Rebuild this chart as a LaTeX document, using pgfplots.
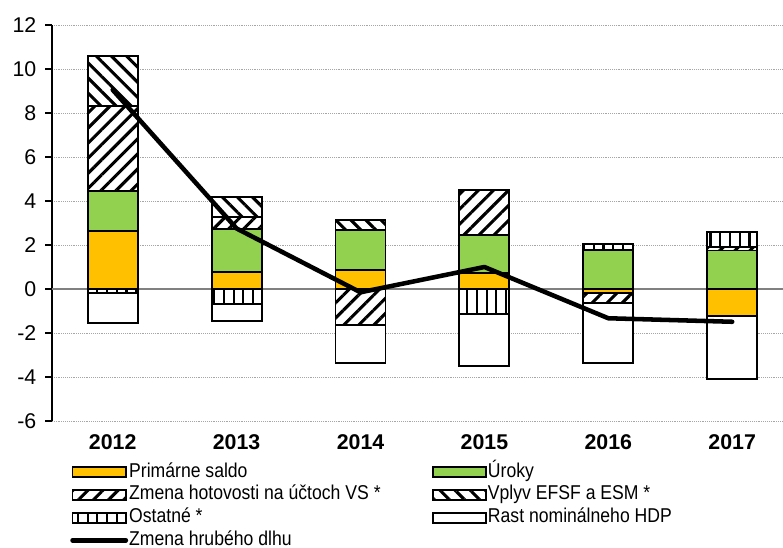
\documentclass[border=0pt]{standalone}
\usepackage{pgfplots}
\pgfplotsset{compat=1.18}
\usepackage{pgfplotstable}
\usepackage{fontspec}
\setmainfont{Liberation Sans}
\newfontfamily\legfont{Liberation Sans}[FakeStretch=0.88]
\usetikzlibrary{patterns.meta}
\definecolor{orangeP}{HTML}{FFC000}
\definecolor{greenU}{HTML}{92D050}

\pgfplotstableread{
x Pp Up Hp Ep Op Pn Hn On Rn L
0 2.65 1.82 3.85 2.27 0 0 0 -0.20 -1.33 9.05
1 0.79 1.92 0.58 0.91 0 0 0 -0.68 -0.76 2.75
2 0.86 1.82 0 0.45 0 0 -1.64 0 -1.74 -0.15
3 0.71 1.74 2.05 0 0 0 0 -1.14 -2.36 1.00
4 0 1.77 0 0 0.28 -0.18 -0.47 0 -2.70 -1.33
5 0 1.75 0.15 0 0.70 -1.21 0 0 -2.88 -1.49
}\data

\tikzset{
  barP/.style={fill=orangeP, draw=black, line width=1.4pt},
  barU/.style={fill=greenU, draw=black, line width=1.4pt},
  barH/.style={preaction={fill=white}, pattern={Lines[angle=45,distance=8pt,line width=2.3pt]}, draw=black, line width=1.4pt},
  barE/.style={preaction={fill=white}, pattern={Lines[angle=-45,distance=8pt,line width=2.3pt]}, draw=black, line width=1.4pt},
  barO/.style={preaction={fill=white}, pattern={Lines[angle=90,distance=7.3pt,line width=1.6pt]}, draw=black, line width=1.4pt},
  barR/.style={fill=white, draw=black, line width=1.4pt},
}
\pgfplotsset{
  barleg/.style={legend image code/.code={\draw[##1] (0pt,-3.75pt) rectangle (40pt,3.75pt);}},
  lineleg/.style={legend image code/.code={\draw[##1] (0pt,0pt) -- (40pt,0pt);}},
}

\begin{document}
\begin{tikzpicture}
\begin{axis}[
  scale only axis, width=548.25pt, height=297pt,
  xmin=-0.49, xmax=5.41, ymin=-6, ymax=12,
  ybar stacked, bar width=37.5pt, reverse stacked plots=false,
  xtick={0,1,2,3,4,5}, xticklabels={2012,2013,2014,2015,2016,2017},
  x tick label style={font=\bfseries\fontsize{16}{18}\selectfont, yshift=-7pt},
  xtick style={draw=none},
  ytick={-6,-4,-2,0,2,4,6,8,10,12},
  y tick label style={font=\fontsize{16}{18}\selectfont, xshift=-3pt},
  /pgf/number format/assume math mode=true,
  axis x line*=bottom, x axis line style={draw=none},
  axis y line*=left, y axis line style={black, line width=0.8pt},
  ytick align=outside, major tick length=5.25pt,
  ytick style={black, line width=0.8pt},
  ymajorgrids, major grid style={densely dotted, gray!70, line width=0.7pt},
  extra y ticks={0}, extra y tick labels={},
  extra y tick style={grid=major, major grid style={solid, gray, line width=1pt}},
  legend columns=2,
  legend cell align=left,
  legend style={draw=none, fill=none, inner sep=0pt, font=\legfont\fontsize{15}{17}\selectfont,
    at={(0,0)}, anchor=north west, xshift=13.5pt, yshift=-30.7pt,
    row sep=1.9pt,
    nodes={inner sep=0.8pt, text height=10.5pt, text depth=3pt},
    /tikz/every odd column/.append style={column sep=0pt},
    /tikz/column 2/.append style={column sep=37.5pt}},
]
\addlegendimage{barleg, barP}\addlegendentry{Primárne saldo}
\addlegendimage{barleg, barU}\addlegendentry{Úroky}
\addlegendimage{barleg, barH}\addlegendentry{Zmena hotovosti na účtoch VS *}
\addlegendimage{barleg, barE}\addlegendentry{Vplyv EFSF a ESM *}
\addlegendimage{barleg, barO}\addlegendentry{Ostatné *}
\addlegendimage{barleg, barR}\addlegendentry{Rast nominálneho HDP}
\addlegendimage{lineleg, black, line width=3.4pt, line cap=round}\addlegendentry{Zmena hrubého dlhu}

\addplot[barP, forget plot] table[x=x, y=Pp] {\data};
\addplot[barU, forget plot] table[x=x, y=Up] {\data};
\addplot[barH, forget plot] table[x=x, y=Hp] {\data};
\addplot[barE, forget plot] table[x=x, y=Ep] {\data};
\addplot[barO, forget plot] table[x=x, y=Op] {\data};
\addplot[barP, forget plot] table[x=x, y=Pn] {\data};
\addplot[barH, forget plot] table[x=x, y=Hn] {\data};
\addplot[barO, forget plot] table[x=x, y=On] {\data};
\addplot[barR, forget plot] table[x=x, y=Rn] {\data};
\addplot[sharp plot, stack plots=false, black, line width=3.4pt, line join=round, line cap=round, mark=none, forget plot] table[x=x, y=L] {\data};
\end{axis}
\pgfresetboundingbox
\path[use as bounding box] ([xshift=-39pt, yshift=-95.25pt]current axis.south west) rectangle ([yshift=18.75pt]current axis.north east);
\end{tikzpicture}
\end{document}
